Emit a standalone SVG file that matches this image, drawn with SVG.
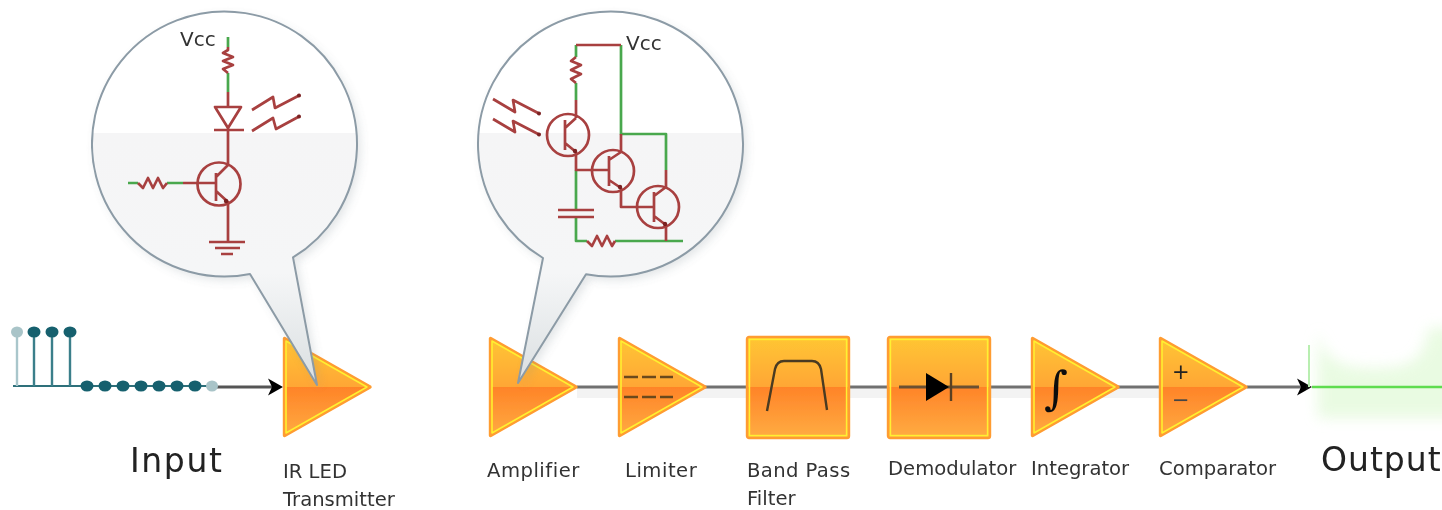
<svg xmlns="http://www.w3.org/2000/svg" width="1442" height="510" viewBox="0 0 1442 510">
<style>
text{font-family:"DejaVu Sans","Liberation Sans",sans-serif;fill:#333}
.lab{font-size:19.600px}
.big{font-size:33px;letter-spacing:1.600px;fill:#222}
.vcc{font-size:20px}
.r{fill:none;stroke:#a8403f;stroke-width:2.700;stroke-linejoin:round}
.g{fill:none;stroke:#4aa84e;stroke-width:2.700;stroke-linejoin:round}
.tip{fill:#7a2020}
.bub{stroke:#8c9ba6;stroke-width:2;stroke-linejoin:round}
.shadow{fill:#7d8a92;opacity:.22;filter:url(#sh)}
.wire{fill:none;stroke:#707070;stroke-width:3}
.sym{fill:none;stroke:#4a3a20;stroke-width:2.400}
.teal{fill:#17616e}
.stem{stroke:#3b7f8a;stroke-width:2.400}
</style>
<defs>
<filter id="soft" x="-2%" y="-2%" width="104%" height="104%"><feGaussianBlur stdDeviation="0.55"/></filter>
<filter id="sh" x="-20%" y="-20%" width="140%" height="140%"><feGaussianBlur stdDeviation="5"/></filter>
<filter id="gl" x="-20%" y="-40%" width="140%" height="180%"><feGaussianBlur stdDeviation="7"/></filter>
<linearGradient id="o" gradientUnits="userSpaceOnUse" x1="0" y1="0" x2="0" y2="100">
<stop offset="0" stop-color="#ffc633"/><stop offset=".5" stop-color="#ffa636"/><stop offset=".505" stop-color="#ff8428"/><stop offset="1" stop-color="#ffac42"/>
</linearGradient>
<linearGradient id="bf" gradientUnits="userSpaceOnUse" x1="0" y1="12" x2="0" y2="385">
<stop offset="0" stop-color="#fff"/><stop offset=".324" stop-color="#fff"/><stop offset=".325" stop-color="#f5f5f6"/><stop offset=".7" stop-color="#f5f6f7"/><stop offset="1" stop-color="#dadfe1"/>
</linearGradient>
<g id="tri">
<polygon points="1.500,1.500 1.500,98.500 87,50" fill="url(#o)" stroke="#ff9c30" stroke-width="3.400" stroke-linejoin="round"/>
<polygon points="3,4 3,96 84,50" fill="none" stroke="#fff030" stroke-width="1.600" stroke-linejoin="round"/>
</g>
<g id="box">
<rect x="0" y="0" width="102" height="101" rx="2" fill="url(#o)" stroke="#ff9c30" stroke-width="2.400"/>
<rect x="2.400" y="2.400" width="97.200" height="96.200" fill="none" stroke="#fff030" stroke-width="1.600"/>
</g>
<polygon id="ah" points="-15,-8.500 0,0 -15,8.500 -11,0" fill="#000"/>
</defs>
<g filter="url(#soft)">
<g id="connectors">
<rect x="577" y="388" width="582" height="10" fill="#f3f3f3"/>
<path class="wire" style="stroke:#555" d="M212 387H272"/>
<path class="wire" d="M577 387H1159M1247 387H1302"/>
<use href="#ah" x="283" y="387"/>
<use href="#ah" x="1312" y="387"/>
</g>
<g id="input-signal">
<path d="M13 386H212" fill="none" stroke="#2f6f7a" stroke-width="2"/>
<path class="stem" style="stroke:#a9c6cb" d="M17 332V386"/>
<path class="stem" d="M34 332V386M52 332V386M70 332V386"/>
<ellipse cx="17" cy="332" rx="6" ry="5.500" fill="#a9c4c8"/>
<g class="teal"><ellipse cx="34" cy="332" rx="6.500" ry="5.500"/><ellipse cx="52" cy="332" rx="6.500" ry="5.500"/><ellipse cx="70" cy="332" rx="6.500" ry="5.500"/>
<ellipse cx="87" cy="386" rx="6.500" ry="5.500"/><ellipse cx="105" cy="386" rx="6.500" ry="5.500"/><ellipse cx="123" cy="386" rx="6.500" ry="5.500"/><ellipse cx="141" cy="386" rx="6.500" ry="5.500"/><ellipse cx="159" cy="386" rx="6.500" ry="5.500"/><ellipse cx="177" cy="386" rx="6.500" ry="5.500"/><ellipse cx="195" cy="386" rx="6.500" ry="5.500"/></g>
<ellipse cx="212" cy="386" rx="6" ry="5.500" fill="#a9c4c8"/>
<text class="big" x="130" y="472">Input</text>
</g>
<g id="ir-led">
<use href="#tri" x="283" y="337"/>
<text class="lab" x="283" y="478">IR LED</text>
<text class="lab" x="283" y="506">Transmitter</text>
</g>
<g id="amplifier">
<use href="#tri" x="489" y="337"/>
<text class="lab" x="487" y="477" style="letter-spacing:.5px">Amplifier</text>
</g>
<g id="limiter">
<use href="#tri" x="618" y="337"/>
<path d="M624 377H673M624 397H673" fill="none" stroke="#6b4a1c" stroke-width="2.600" stroke-dasharray="14 4"/>
<text class="lab" x="625" y="477" style="letter-spacing:.5px">Limiter</text>
</g>
<g id="band-pass">
<use href="#box" x="747" y="337"/>
<path class="sym" d="M767 411L775 369Q777 361 784 361H812Q819 361 821 369L827 410"/>
<text class="lab" x="747" y="477" style="letter-spacing:.4px">Band Pass</text>
<text class="lab" x="747" y="505">Filter</text>
</g>
<g id="demodulator">
<use href="#box" x="888" y="337"/>
<path d="M899 387H979" stroke="#6a5030" stroke-width="3" fill="none"/>
<polygon points="926,373 926,401 949,387" fill="#000"/>
<path d="M951 373V401" stroke="#5a4020" stroke-width="2.400"/>
<text class="lab" x="888" y="475">Demodulator</text>
</g>
<g id="integrator">
<use href="#tri" x="1031" y="337"/>
<text x="1044" y="404" style="font-family:'DejaVu Serif',serif;font-style:italic;font-size:46px;fill:#111">∫</text>
<text class="lab" x="1031" y="475">Integrator</text>
</g>
<g id="comparator">
<use href="#tri" x="1159" y="337"/>
<text x="1172" y="379" style="font-size:21px;fill:#222">+</text>
<text x="1172" y="407" style="font-size:21px;fill:#444">−</text>
<text class="lab" x="1159" y="475">Comparator</text>
</g>
<g id="output">
<path d="M1318 328C1322 366 1350 368 1375 368C1400 368 1425 366 1428 328H1460V418H1318Z" fill="#e4fadb" opacity=".8" filter="url(#gl)"/>
<path d="M1309 345V387" stroke="#b8eeb0" stroke-width="2" fill="none"/>
<path d="M1312 387H1442" stroke="#5fdc50" stroke-width="2.600" fill="none"/>
<text class="big" x="1321" y="471" style="letter-spacing:1px">Output</text>
</g>
<g id="callout-transmitter">
<circle class="shadow" cx="228" cy="148" r="132.500"/>
<path class="shadow" d="M321 389L254 278L297 261Z"/>
<path class="bub" fill="url(#bf)" d="M317 385L250 274A132.500 132.500 0 1 1 293 257.400Z"/>
<text class="vcc" x="180" y="46">Vcc</text>
<path class="g" d="M228 37V47M228 73V92M128 183H138M167 183H183"/>
<path class="r" d="M228 47V50L223 53L233 57L223 61L233 65L223 69L228 73M228 92V107M215 107H241L228 128ZM214 130H244M228 128V165M216 177L228 165M216 191L228 202V242M209 242H245M215 248H240M221 254H233M216 173V201M183 183H216M138 183L143 188L148 178L153 188L158 178L163 188L167 183"/>
<circle cx="219" cy="184" r="21.500" class="r"/>
<path class="r" d="M252 110L273 97L275 108L300 95M252 131L273 118L276 129L300 116"/>
<circle class="tip" cx="299" cy="95.500" r="2"/><circle class="tip" cx="299" cy="116.500" r="2"/><circle class="tip" cx="226" cy="201" r="2.200"/>
</g>
<g id="callout-receiver">
<circle class="shadow" cx="614" cy="148" r="132.500"/>
<path class="shadow" d="M522 387L547 262L590 278Z"/>
<path class="bub" fill="url(#bf)" d="M518 383L543 258A132.500 132.500 0 1 1 586 274.200Z"/>
<text class="vcc" x="626" y="50">Vcc</text>
<path class="g" d="M621 45V134H666V170M576 45V57M576 83V100M576 170V210M576 217V241H587M615 241H683"/>
<path class="r" d="M576 45H621M576 57L571 61L581 65L571 70L581 74L571 79L576 83M576 100V118M565 120V150M565 128L576 118M565 143L576 152V170H609M609 156V186M609 160L621 152V134M609 180L621 188V207H654M654 192V222M654 196L666 187V170M654 216L666 225V241M558 210H594M558 217H594M587 241L592 246L597 236L602 246L607 236L612 246L615 241"/>
<circle cx="568" cy="135" r="21" class="r"/><circle cx="613" cy="171" r="21" class="r"/><circle cx="658" cy="207" r="21" class="r"/>
<path class="r" d="M493 99L515 112L513 100L540 114M493 119L515 132L513 121L540 135"/>
<circle class="tip" cx="539" cy="113.500" r="2"/><circle class="tip" cx="539" cy="134.500" r="2"/><circle class="tip" cx="575" cy="151" r="2.200"/><circle class="tip" cx="620" cy="187" r="2.200"/><circle class="tip" cx="665" cy="224" r="2.200"/>
</g>
</g>
</svg>
